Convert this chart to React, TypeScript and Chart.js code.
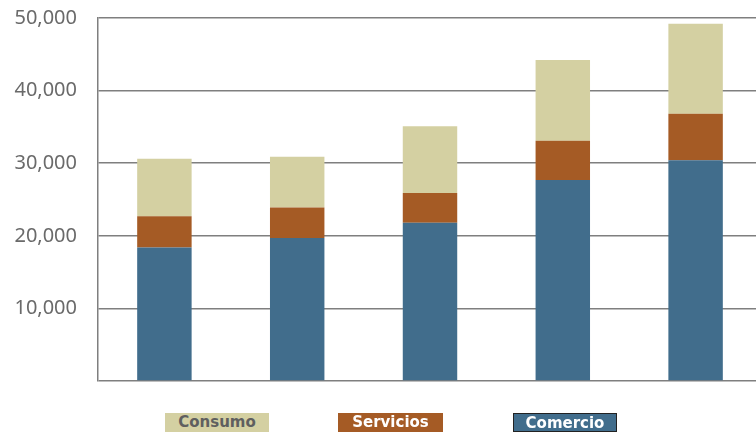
import React, { useEffect, useRef } from "react";
import { Chart, registerables } from "chart.js";

Chart.register(...registerables);

const categories = ["1", "2", "3", "4", "5"];
const comercio = [18400, 19700, 21800, 27700, 30400];
const servicios = [4300, 4200, 4100, 5400, 6400];
const consumo = [7900, 7000, 9200, 11100, 12400];
const yTicks = [0, 10000, 20000, 30000, 40000, 50000];

const COL_CONSUMO = "#d4d0a2";
const COL_SERVICIOS = "#a55b25";
const COL_COMERCIO = "#416d8c";

export default function App() {
  const ref = useRef<HTMLCanvasElement | null>(null);

  useEffect(() => {
    if (!ref.current) return;
    const chart = new Chart(ref.current, {
      type: "bar",
      data: {
        labels: categories,
        datasets: [
          { label: "Comercio", data: comercio, backgroundColor: COL_COMERCIO, borderWidth: 0 },
          { label: "Servicios", data: servicios, backgroundColor: COL_SERVICIOS, borderWidth: 0 },
          { label: "Consumo", data: consumo, backgroundColor: COL_CONSUMO, borderWidth: 0 },
        ],
      },
      options: {
        animation: false,
        responsive: false,
        maintainAspectRatio: false,
        layout: { padding: { left: 0, top: 18, right: 0, bottom: 53 } },
        plugins: { legend: { display: false }, tooltip: { enabled: false } },
        datasets: { bar: { categoryPercentage: 1, barPercentage: 0.41 } },
        scales: {
          x: {
            stacked: true,
            display: false,
          },
          y: {
            stacked: true,
            min: 0,
            max: 50000,
            afterFit: (scale: any) => {
              scale.width = 98;
              scale.paddingTop = 0;
              scale.paddingBottom = 0;
            },
            afterBuildTicks: (scale: any) => {
              scale.ticks = yTicks.map((v) => ({ value: v }));
            },
            border: { display: true, color: "#7f7f7f", width: 1.5 },
            grid: { color: "#7f7f7f", lineWidth: 1.5, drawTicks: false },
            ticks: {
              padding: 21,
              color: "#6a6a6a",
              font: { family: "'Noto Sans'", size: 20 },
              callback: (v: any) => (v === 0 ? "" : Number(v).toLocaleString("en-US")),
            },
          },
        },
      },
    });
    return () => chart.destroy();
  }, []);

  const legendItems = [
    { text: "Consumo", left: 165, width: 104, bg: COL_CONSUMO, color: "#5f5f5f", border: "none" },
    { text: "Servicios", left: 338, width: 105, bg: COL_SERVICIOS, color: "#ffffff", border: "none" },
    { text: "Comercio", left: 513, width: 104, bg: COL_COMERCIO, color: "#ffffff", border: "1px solid #222" },
  ];

  return (
    <div
      style={{
        position: "fixed",
        left: 0,
        top: 0,
        width: 756,
        height: 434,
        overflow: "hidden",
        background: "#fff",
      }}
    >
      <canvas ref={ref} width={762} height={434} style={{ position: "absolute", left: 0, top: 0 }} />
      {legendItems.map((it) => (
        <div
          key={it.text}
          style={{
            position: "absolute",
            left: it.left,
            top: 413,
            width: it.width,
            height: 19,
            boxSizing: "border-box",
            background: it.bg,
            color: it.color,
            border: it.border,
            fontFamily: "'DejaVu Sans'",
            fontWeight: "bold",
            fontSize: 15,
            lineHeight: "19px",
            textAlign: "center",
          }}
        >
          {it.text}
        </div>
      ))}
    </div>
  );
}
